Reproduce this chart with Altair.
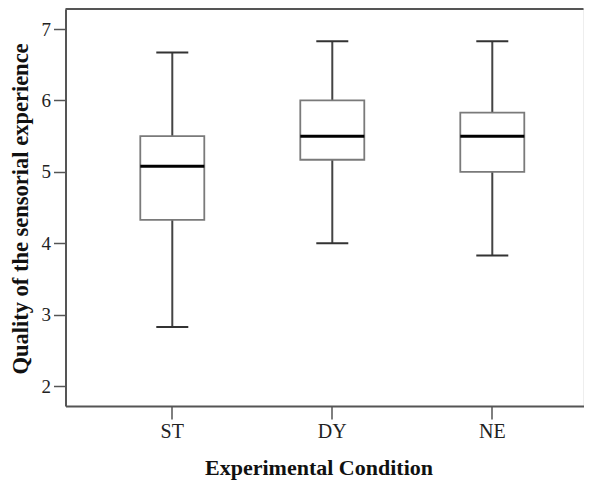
import altair as alt
import pandas as pd

conditions = ["ST", "DY", "NE"]
lower = [2.83, 4.00, 3.83]
q1 = [4.33, 5.17, 5.00]
median = [5.08, 5.50, 5.50]
q3 = [5.50, 6.00, 5.83]
upper = [6.67, 6.83, 6.83]

df = pd.DataFrame({"cond": conditions, "lower": lower, "q1": q1,
                   "median": median, "q3": q3, "upper": upper})

W, H = 518, 397
FONT = "Liberation Serif"
AXC = "#555555"

xscale = alt.Scale(domain=conditions, paddingInner=0, paddingOuter=0.11875, align=0.705)
yscale = alt.Scale(domain=[1.724, 7.28], nice=False, zero=False)

xenc = alt.X("cond:N", scale=xscale, sort=conditions,
             axis=alt.Axis(title="Experimental Condition", labelAngle=0,
                           labelFont=FONT, labelFontSize=20, labelColor="#222",
                           labelPadding=2, tickSize=13, tickColor=AXC, tickWidth=1.5,
                           domainColor=AXC, domainWidth=2,
                           titleFont=FONT, titleFontSize=22, titleFontWeight="bold",
                           titleColor="#111", titleX=253, titleY=68.5,
                           titleBaseline="alphabetic", titleAlign="center"))
yaxis = alt.Axis(title="Quality of the sensorial experience", values=[2, 3, 4, 5, 6, 7],
                 format="d",
                 labelFont=FONT, labelFontSize=19, labelColor="#222", labelPadding=3,
                 tickSize=12, tickColor=AXC, tickWidth=1.5, domainColor=AXC, domainWidth=2,
                 grid=False, titleFont=FONT, titleFontSize=22.5, titleFontWeight="bold",
                 titleColor="#111", titleAngle=-90, titleX=-38.5, titleY=199.5,
                 titleBaseline="alphabetic", titleAlign="center")

base = alt.Chart(df)

whisk_lo = base.mark_rule(color="#444444", strokeWidth=2).encode(
    x=xenc, y=alt.Y("lower:Q", scale=yscale, axis=yaxis), y2="q1:Q")
whisk_hi = base.mark_rule(color="#444444", strokeWidth=2).encode(
    x=xenc, y=alt.Y("q3:Q", scale=yscale), y2="upper:Q")
box = base.mark_bar(size=64, fill="white", stroke="#7a7a7a", strokeWidth=1.8).encode(
    x=xenc, y=alt.Y("q1:Q", scale=yscale), y2="q3:Q")
med = base.mark_tick(size=64, thickness=3, color="#000000", opacity=1).encode(
    x=xenc, y=alt.Y("median:Q", scale=yscale))
cap_lo = base.mark_tick(size=32, thickness=2, color="#333333", opacity=1).encode(
    x=xenc, y=alt.Y("lower:Q", scale=yscale))
cap_hi = base.mark_tick(size=32, thickness=2, color="#333333", opacity=1).encode(
    x=xenc, y=alt.Y("upper:Q", scale=yscale))
top = alt.Chart(pd.DataFrame({"a": [0]})).mark_rule(color=AXC, strokeWidth=2).encode(
    x=alt.value(0), x2=alt.value(W), y=alt.value(0))

chart = alt.layer(top, whisk_lo, whisk_hi, box, med, cap_lo, cap_hi).properties(
    width=W, height=H,
    autosize=alt.AutoSizeParams(type="none"),
    padding={"left": 57.5, "top": 1, "right": 0, "bottom": 76},
).configure_view(stroke=None).configure(background="white")

chart.save("out.html", embed_options={"renderer": "svg", "actions": False})
